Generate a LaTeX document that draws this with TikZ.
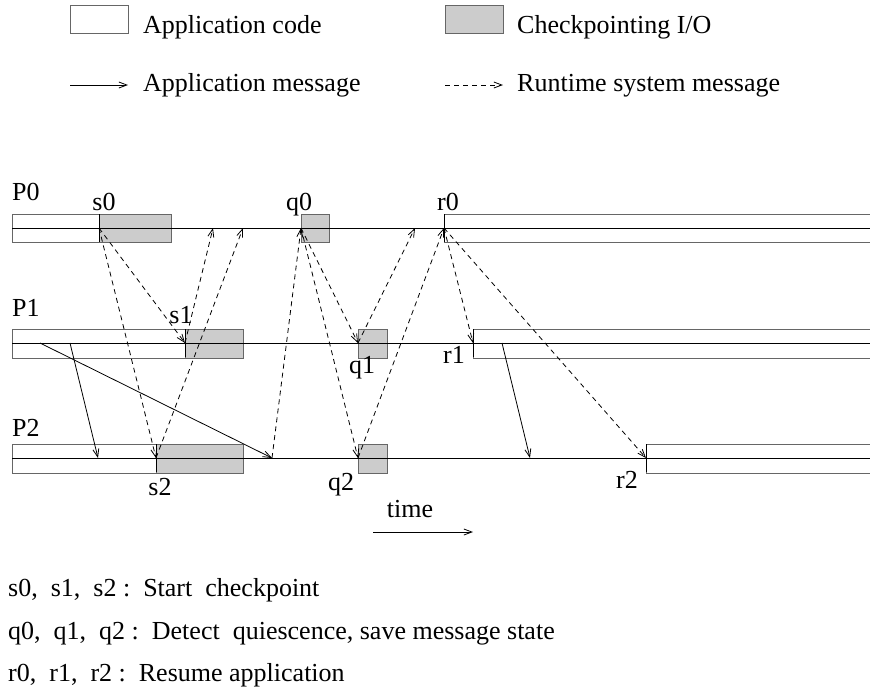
\documentclass[tikz,border=0pt]{standalone}
\usepackage{fontspec}
\setmainfont{Liberation Serif}
\usetikzlibrary{arrows.meta, positioning}

\tikzset{
  appbox/.style={draw=black!60, fill=white, line width=1pt},
  ckptbox/.style={draw=black!60, fill=black!20, line width=1pt},
  procline/.style={draw=black, line width=1pt},
  appmsg/.style={-{Straight Barb[length=8pt,width=6pt]}, line width=0.8pt},
  rtsmsg/.style={appmsg, dash pattern=on 5pt off 4pt},
  lbl/.style={font=\fontsize{26}{31}\selectfont, inner sep=0pt}
}

\begin{document}
\begin{tikzpicture}[x=1pt, y=-1pt]
  \useasboundingbox (0,0) rectangle (870,689);
  % Legend
  \node[appbox, minimum width=58pt, minimum height=28pt, anchor=north west] (legapp) at (70,5) {};
  \node[lbl, anchor=base west] (legapptxt) at (143,33) {Application code};
  \node[ckptbox, minimum width=58pt, minimum height=28pt, anchor=north west] (legckpt) at (445,5) {};
  \node[lbl, anchor=base west] (legckpttxt) at (517,33) {Checkpointing I/O};
  \coordinate (legam0) at (70,85);
  \coordinate (legam1) at (128,85);
  \draw[appmsg] (legam0) -- (legam1);
  \node[lbl, anchor=base west] (legamtxt) at (143,91) {Application message};
  \coordinate (legrm0) at (445,85);
  \coordinate (legrm1) at (503,85);
  \draw[rtsmsg] (legrm0) -- (legrm1);
  \node[lbl, anchor=base west] (legrmtxt) at (517,91) {Runtime system message};

  % Process P0
  \draw[appbox] (12,214) rectangle (99,242);
  \draw[ckptbox] (99,214) rectangle (171,242);
  \draw[ckptbox] (301,214) rectangle (329,242);
  \draw[appbox] (444,214) rectangle (880,242);
  \draw[procline] (12,228) -- (880,228);
  % Process P1
  \draw[appbox] (12,329) rectangle (185,358);
  \draw[ckptbox] (185,329) rectangle (243,358);
  \draw[ckptbox] (358,329) rectangle (387,358);
  \draw[appbox] (473,329) rectangle (880,358);
  \draw[procline] (12,343) -- (880,343);
  % Process P2
  \draw[appbox] (12,444) rectangle (156,473);
  \draw[ckptbox] (156,444) rectangle (243,473);
  \draw[ckptbox] (358,444) rectangle (387,473);
  \draw[appbox] (646,444) rectangle (880,473);
  \draw[procline] (12,458) -- (880,458);
  % Event edges
  \foreach \ex/\ey in {99/228, 444/228, 185/343, 473/343, 156/458, 646/458}
    \draw[procline] (\ex,\ey-14) -- (\ex,\ey+14);

  % Events
  \coordinate (s0) at (99,228);
  \coordinate (q0) at (301,228);
  \coordinate (r0) at (444,228);
  \coordinate (s1) at (185,343);
  \coordinate (q1) at (358,343);
  \coordinate (r1) at (473,343);
  \coordinate (s2) at (156,458);
  \coordinate (q2) at (358,458);
  \coordinate (r2) at (646,458);
  % Other message ends
  \coordinate (p0a) at (213,228);
  \coordinate (p0b) at (243,228);
  \coordinate (p0c) at (415,228);
  \coordinate (p1a) at (40,343);
  \coordinate (p1b) at (70,343);
  \coordinate (p1c) at (502,343);
  \coordinate (p2a) at (98,458);
  \coordinate (p2b) at (272,458);
  \coordinate (p2c) at (530,458);

  % Runtime system messages
  \foreach \from/\to in {s0/s1, s0/s2, s1/p0a, s2/p0b, p2b/q0, q0/q1, q0/q2, q1/p0c, q2/r0, r0/r1, r0/r2}
    \draw[rtsmsg] (\from) -- (\to);
  % Application messages
  \foreach \from/\to in {p1a/p2b, p1b/p2a, p1c/p2c}
    \draw[appmsg] (\from) -- (\to);

  % Labels
  \node[lbl, anchor=base west] (P0) at (12,200) {P0};
  \node[lbl, anchor=base west] (P1) at (12,316) {P1};
  \node[lbl, anchor=base west] (P2) at (12,436) {P2};
  \node[lbl, anchor=base] (s0lbl) at (104,210) {s0};
  \node[lbl, anchor=base] (q0lbl) at (299,210) {q0};
  \node[lbl, anchor=base] (r0lbl) at (448,210) {r0};
  \node[lbl, anchor=base] (s1lbl) at (181,323) {s1};
  \node[lbl, anchor=base] (q1lbl) at (362,373) {q1};
  \node[lbl, anchor=base] (r1lbl) at (454,363) {r1};
  \node[lbl, anchor=base] (s2lbl) at (160,495) {s2};
  \node[lbl, anchor=base] (q2lbl) at (341,490) {q2};
  \node[lbl, anchor=base] (r2lbl) at (627,488) {r2};

  % Time axis
  \node[lbl, anchor=base] (timelbl) at (410,517) {time};
  \coordinate (t0) at (373,532);
  \coordinate (t1) at (473,532);
  \draw[appmsg] (t0) -- (t1);

  % Key
  \node[lbl, anchor=base west] (keys) at (8,596) {s0,\ \ s1,\ \ s2 :\ \ Start\ \ checkpoint};
  \node[lbl, anchor=base west] (keyq) at (8,639) {q0,\ \ q1,\ \ q2 :\ \ Detect\ \ quiescence, save message state};
  \node[lbl, anchor=base west] (keyr) at (8,681) {r0,\ \ r1,\ \ r2 :\ \ Resume application};
\end{tikzpicture}
\end{document}
